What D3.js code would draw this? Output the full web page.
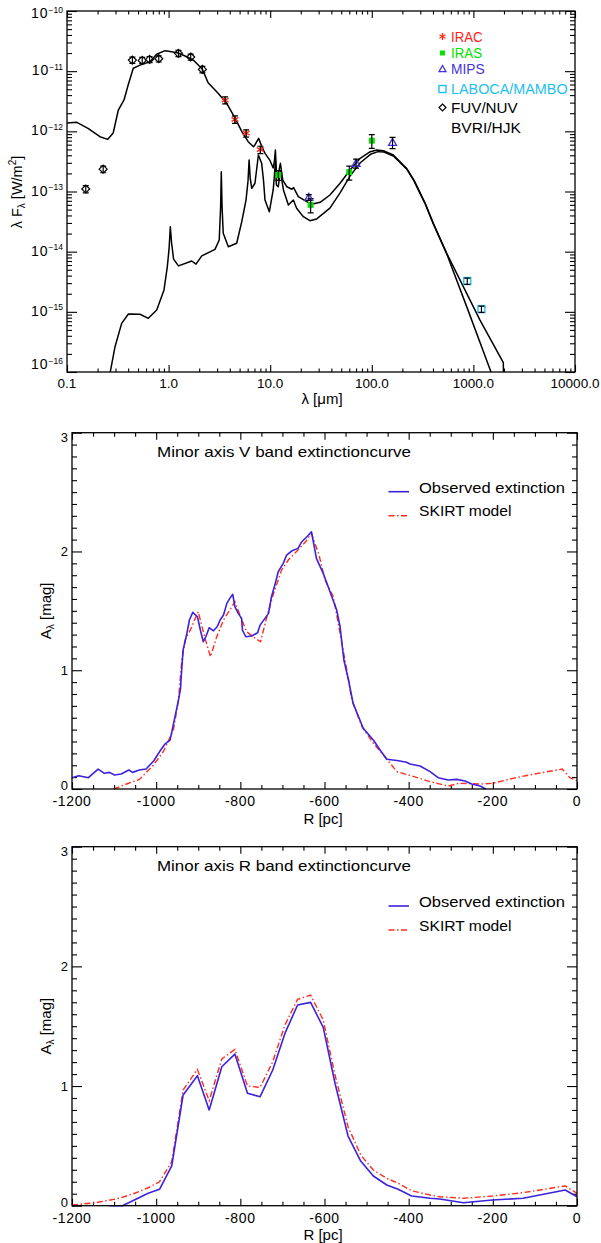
<!DOCTYPE html>
<html>
<head>
<meta charset="utf-8">
<script src="https://cdn.jsdelivr.net/npm/d3@7"></script>
<style>
  body { margin: 0; background: #fff; }
</style>
</head>
<body>
<svg id="chart" width="601" height="1243"></svg>
<script>
// ---- SED photometry: wavelength [micron], lambda F_lambda [W/m^2], error ----
const optLam  = [0.153, 0.227, 0.44, 0.55, 0.65, 0.80, 1.25, 1.65, 2.15];
const optFlux = [1.1e-13, 2.35e-13, 1.53e-11, 1.51e-11, 1.57e-11, 1.61e-11, 1.98e-11, 1.72e-11, 1.07e-11];
const optErr  = [1.5e-14, 3.0e-14, 1.8e-12, 1.8e-12, 1.8e-12, 1.9e-12, 2.3e-12, 2.0e-12, 1.3e-12];

const iracLam  = [3.6, 4.5, 5.8, 8.0];
const iracFlux = [3.3e-12, 1.58e-12, 9.3e-13, 4.95e-13];
const iracErr  = [4.5e-13, 2.2e-13, 1.3e-13, 7.0e-14];

const irasLam  = [12, 25, 60, 100];
const irasFlux = [1.88e-13, 6.0e-14, 2.1e-13, 7.0e-13];
const irasErr  = [3.5e-14, 1.6e-14, 5.5e-14, 1.8e-13];

const mipsLam  = [24, 70, 160];
const mipsFlux = [8.0e-14, 2.94e-13, 6.56e-13];
const mipsErr  = [9.0e-15, 5.0e-14, 1.4e-13];

const submmLam  = [870, 1200];
const submmFlux = [3.25e-15, 1.11e-15];
const submmErr  = [3.8e-16, 1.3e-16];

// ---- SED models ----
const totalLam  = [0.1, 0.125, 0.161, 0.211, 0.252, 0.285, 0.32, 0.364, 0.40, 0.449, 0.524, 0.656, 0.763,
  0.922, 1.07, 1.24, 1.51, 1.75, 2.14, 2.45, 3.07, 3.73, 4.51, 5.26, 6.07, 6.85, 7.0, 7.7, 8.27, 8.9, 9.9,
  10.7, 11.0, 11.25, 11.5, 11.9, 12.6, 13.3, 14.6, 16.3, 17.0, 18.9, 22.9, 25.6, 31, 38.7, 48.7, 61.1,
  76.8, 96.6, 112, 130, 163, 221, 260, 334, 403, 546, 1161, 1970, 2000];
const totalFlux = [1.37e-12, 1.41e-12, 1.12e-12, 8.15e-13, 7.36e-13, 9.37e-13, 2.26e-12, 3.32e-12, 5.89e-12,
  1.12e-11, 1.26e-11, 1.44e-11, 1.91e-11, 2.19e-11, 2.10e-11, 2.0e-11, 1.74e-11, 1.53e-11, 1.09e-11,
  6.43e-12, 4.29e-12, 2.92e-12, 1.66e-12, 9.86e-13, 6.72e-13, 5.55e-13, 5.8e-13, 7.66e-13, 5.55e-13,
  4.31e-13, 3.33e-13, 2.46e-13, 3.2e-13, 4.9e-13, 2.2e-13, 1.8e-13, 2.94e-13, 1.55e-13, 1.2e-13, 1.09e-13,
  1.16e-13, 8.19e-14, 6.77e-14, 6.12e-14, 6.61e-14, 8.74e-14, 1.37e-13, 2.28e-13, 3.56e-13, 4.58e-13,
  4.9e-13, 4.76e-13, 4.04e-13, 2.4e-13, 1.55e-13, 6.5e-14, 2.96e-14, 9.4e-15, 7.3e-16, 1.43e-16, 1e-17];

const dustLam  = [0.26, 0.297, 0.345, 0.402, 0.524, 0.631, 0.764, 0.901, 0.971, 1.01, 1.04, 1.07, 1.12,
  1.25, 1.69, 1.86, 2.12, 2.86, 3.15, 3.25, 3.3, 3.36, 3.45, 3.87, 4.68, 5.25, 5.78, 6.05, 6.2, 6.35, 6.58,
  7.08, 7.65, 8.24, 8.6, 8.89, 9.8, 10.7, 11.0, 11.25, 11.5, 12.0, 12.6, 13.5, 15.1, 16.9, 18.2, 21.2,
  24.6, 28.7, 38.7, 48.7, 61, 77, 97, 115, 130, 163, 221, 260, 334, 403, 546, 859, 1490, 2000];
const dustFlux = [8e-17, 2.63e-16, 6.44e-16, 9.2e-16, 9.1e-16, 7.8e-16, 1.07e-15, 2.31e-15, 5.6e-15, 1.1e-14,
  2.6e-14, 1.4e-14, 7.5e-15, 5.8e-15, 7.0e-15, 6.2e-15, 8.5e-15, 1.09e-14, 1.56e-14, 5.5e-14, 2.13e-13,
  5.5e-14, 2.02e-14, 1.21e-14, 1.38e-14, 3.15e-14, 7.2e-14, 1.5e-13, 3.33e-13, 1.7e-13, 1.13e-13,
  1.37e-13, 4.04e-13, 2.94e-13, 1.5e-13, 7.2e-14, 4.6e-14, 1.06e-13, 1.8e-13, 3.2e-13, 1.3e-13, 1.2e-13,
  2.2e-13, 1.06e-13, 5.95e-14, 7.2e-14, 5.25e-14, 3.81e-14, 3.27e-14, 3.5e-14, 5.3e-14, 9.5e-14, 1.8e-13,
  3.0e-13, 4.15e-13, 4.6e-13, 4.55e-13, 3.9e-13, 2.35e-13, 1.5e-13, 6.3e-14, 2.9e-14, 9.2e-15, 1.22e-15,
  1.0e-16, 2.5e-17];

const sedXTickLabels = ['0.1', '1.0', '10.0', '100.0', '1000.0', '10000.0'];
const sedYTickExp = ['\u221216', '\u221215', '\u221214', '\u221213', '\u221212', '\u221211', '\u221210'];

// ---- V band extinction along the minor axis ----
const vObsR = [-1200, -1184, -1161, -1138, -1123, -1111, -1099, -1083, -1065, -1056, -1040, -1024, -1006,
  -992, -980, -967, -947, -942, -941, -936, -927, -921, -913, -902, -894, -888, -882, -874, -864, -855,
  -848, -840, -832, -825, -818, -813, -805, -797, -795, -787, -773, -759, -753, -733, -726, -718, -710,
  -698, -690, -677, -663, -654, -640, -631, -619, -603, -571, -563, -554, -543, -532, -508, -484, -468,
  -452, -428, -405, -397, -373, -349, -330, -306, -286, -266, -250, -230, -217];
const vObsA = [0.095, 0.112, 0.095, 0.168, 0.132, 0.14, 0.118, 0.126, 0.16, 0.14, 0.16, 0.168, 0.236,
  0.314, 0.375, 0.412, 0.749, 0.848, 0.918, 1.17, 1.31, 1.423, 1.487, 1.45, 1.324, 1.24, 1.282, 1.358,
  1.332, 1.366, 1.423, 1.465, 1.563, 1.605, 1.639, 1.535, 1.479, 1.437, 1.338, 1.282, 1.288, 1.316, 1.38,
  1.479, 1.619, 1.717, 1.829, 1.9, 1.97, 2.006, 2.026, 2.082, 2.13, 2.166, 1.94, 1.816, 1.507, 1.366,
  1.086, 0.918, 0.721, 0.511, 0.412, 0.328, 0.25, 0.24, 0.225, 0.21, 0.194, 0.146, 0.095, 0.076, 0.081,
  0.067, 0.042, 0.025, 0.0];
const vModR = [-1101, -1060, -1040, -1007, -983, -959, -947, -939, -931, -919, -907, -900, -884, -871, -856,
  -840, -825, -813, -801, -785, -765, -752, -737, -721, -702, -686, -667, -645, -631, -613, -599, -579,
  -563, -547, -535, -511, -484, -460, -428, -389, -349, -306, -280, -230, -200, -152, -105, -57, -35, -17, 0];
const vModA = [0.0, 0.056, 0.08, 0.2, 0.314, 0.497, 0.749, 1.086, 1.254, 1.338, 1.437, 1.492, 1.269, 1.114,
  1.282, 1.423, 1.507, 1.577, 1.465, 1.324, 1.269, 1.24, 1.45, 1.647, 1.843, 1.928, 1.998, 2.082, 2.152,
  1.97, 1.759, 1.619, 1.31, 1.002, 0.749, 0.524, 0.385, 0.286, 0.146, 0.106, 0.062, 0.025, 0.048, 0.042,
  0.048, 0.09, 0.124, 0.154, 0.168, 0.095, 0.07];

// ---- R band extinction along the minor axis ----
const rObsR = [-1111, -1080, -1019, -992, -963, -936, -902, -874, -844, -813, -783, -753, -723, -694, -664,
  -633, -603, -575, -544, -514, -484, -452, -425, -393, -349, -326, -270, -201, -128, -28, 0];
const rObsA = [0.0, 0.0, 0.104, 0.137, 0.332, 0.925, 1.086, 0.8, 1.161, 1.267, 0.939, 0.911, 1.134, 1.44,
  1.677, 1.699, 1.49, 1.023, 0.582, 0.373, 0.248, 0.173, 0.137, 0.081, 0.062, 0.056, 0.025, 0.048, 0.062,
  0.131, 0.075];
const rModR = [-1200, -1143, -1088, -1051, -1019, -992, -963, -936, -902, -874, -844, -813, -783, -753, -723,
  -694, -664, -633, -603, -575, -544, -514, -484, -452, -425, -393, -349, -326, -270, -201, -128, -28, 0];
const rModA = [0.006, 0.025, 0.062, 0.104, 0.15, 0.2, 0.368, 0.967, 1.139, 0.877, 1.226, 1.306, 1.0, 0.989,
  1.203, 1.51, 1.724, 1.76, 1.551, 1.092, 0.66, 0.424, 0.298, 0.229, 0.187, 0.125, 0.089, 0.075, 0.062,
  0.081, 0.109, 0.165, 0.104];

const extXTicks = [-1200, -1000, -800, -600, -400, -200, 0];
const extYTicks = [0, 1, 2, 3];

const FONT = '"Liberation Sans", Arial, Helvetica, sans-serif';
const BLUE = '#3b22dc';
const RED = '#ff2d1e';
const svg = d3.select('#chart').attr('font-family', FONT);

function frame(x0, y0, x1, y1) {
  svg.append('rect')
    .attr('x', x0).attr('y', y0)
    .attr('width', x1 - x0).attr('height', y1 - y0)
    .attr('fill', 'none').attr('stroke', '#000').attr('stroke-width', 1.3);
}

// ticks pointing inward, labels drawn separately
function ticks(axis, transform, values, size) {
  const g = svg.append('g').attr('transform', transform)
    .call(axis.tickValues(values).tickSize(-size).tickFormat(''));
  g.select('.domain').remove();
  g.selectAll('.tick line').attr('stroke', '#000').attr('stroke-width', 1.1);
}

const isDecade = v => Math.abs(Math.log10(v) - Math.round(Math.log10(v))) < 1e-6;

// =================== panel 1 : SED ===================
const sx = d3.scaleLog().domain([0.1, 10000]).range([67, 575]);
const sy = d3.scaleLog().domain([1e-16, 1e-10]).range([372, 11]);

const sxMajor = sx.ticks().filter(isDecade);
const sxMinor = sx.ticks().filter(v => !isDecade(v));
const syMajor = sy.ticks().filter(isDecade);
const syMinor = sy.ticks().filter(v => !isDecade(v));

ticks(d3.axisBottom(sx), 'translate(0,372)', sxMajor, 7);
ticks(d3.axisBottom(sx), 'translate(0,372)', sxMinor, 3.5);
ticks(d3.axisTop(sx), 'translate(0,11)', sxMajor, 7);
ticks(d3.axisTop(sx), 'translate(0,11)', sxMinor, 3.5);
ticks(d3.axisLeft(sy), 'translate(67,0)', syMajor, 10);
ticks(d3.axisLeft(sy), 'translate(67,0)', syMinor, 5);
ticks(d3.axisRight(sy), 'translate(575,0)', syMajor, 10);
ticks(d3.axisRight(sy), 'translate(575,0)', syMinor, 5);

svg.append('g').selectAll('text').data(sxMajor).join('text')
  .attr('x', d => sx(d)).attr('y', 388)
  .attr('text-anchor', 'middle').attr('font-size', 13.5)
  .text((d, i) => sedXTickLabels[i]);

syMajor.forEach((v, i) => {
  const yb = Math.min(Math.max(sy(v) + 4, 18), 369);
  const t = svg.append('text').attr('x', 63).attr('y', yb)
    .attr('text-anchor', 'end').attr('font-size', 14);
  t.append('tspan').attr('letter-spacing', 1).text('10');
  t.append('tspan').attr('font-size', 8.5).attr('dy', -5.5).text(sedYTickExp[i]);
});

svg.append('text').attr('x', 322).attr('y', 404)
  .attr('text-anchor', 'middle').attr('font-size', 15)
  .text('\u03bb [\u03bcm]');

const syl = svg.append('text').attr('transform', 'translate(22,192) rotate(-90)')
  .attr('text-anchor', 'middle').attr('font-size', 14.5);
syl.append('tspan').text('\u03bb F');
syl.append('tspan').attr('font-size', 10).attr('dy', 3).text('\u03bb');
syl.append('tspan').attr('dy', -3).text(' [W/m');
syl.append('tspan').attr('font-size', 10).attr('dy', -6).text('2');
syl.append('tspan').attr('dy', 6).text(']');

svg.append('clipPath').attr('id', 'sedClip').append('rect')
  .attr('x', 67).attr('y', 11).attr('width', 508).attr('height', 361);

const sedLine = d3.line().x(d => sx(d[0])).y(d => sy(d[1]));
const sedG = svg.append('g').attr('clip-path', 'url(#sedClip)');
[[totalLam, totalFlux], [dustLam, dustFlux]].forEach(([l, f]) => {
  sedG.append('path').datum(d3.zip(l, f)).attr('d', sedLine)
    .attr('fill', 'none').attr('stroke', '#000').attr('stroke-width', 1.5)
    .attr('stroke-linejoin', 'round');
});

// marker shapes
function diamond(g, x, y, r, color) {
  g.append('path').attr('d', `M${x},${y - r}L${x + r},${y}L${x},${y + r}L${x - r},${y}Z`)
    .attr('fill', 'none').attr('stroke', color).attr('stroke-width', 1.2);
}
function asterisk(g, x, y, r, color) {
  [90, 30, -30].forEach(a => {
    const dx = r * Math.cos(a * Math.PI / 180), dy = r * Math.sin(a * Math.PI / 180);
    g.append('line').attr('x1', x - dx).attr('y1', y - dy).attr('x2', x + dx).attr('y2', y + dy)
      .attr('stroke', color).attr('stroke-width', 1.4);
  });
}
function square(g, x, y, r, color, filled) {
  g.append('rect').attr('x', x - r).attr('y', y - r).attr('width', 2 * r).attr('height', 2 * r)
    .attr('fill', filled ? color : 'none').attr('stroke', color).attr('stroke-width', filled ? 0 : 1.4);
}
function triangle(g, x, y, r, color) {
  g.append('path').attr('d', `M${x},${y - r}L${x + r},${y + r * 0.75}L${x - r},${y + r * 0.75}Z`)
    .attr('fill', 'none').attr('stroke', color).attr('stroke-width', 1.3);
}

const markG = svg.append('g');
function photometry(lam, flux, err, draw) {
  lam.forEach((l, i) => {
    const x = sx(l), y = sy(flux[i]);
    draw(markG, x, y);
    const y1 = sy(flux[i] + err[i]), y2 = sy(flux[i] - err[i]);
    markG.append('path')
      .attr('d', `M${x},${y1}V${y2}M${x - 3},${y1}H${x + 3}M${x - 3},${y2}H${x + 3}`)
      .attr('fill', 'none').attr('stroke', '#000').attr('stroke-width', 1.2);
  });
}
photometry(optLam, optFlux, optErr, (g, x, y) => diamond(g, x, y, 4, '#000'));
photometry(iracLam, iracFlux, iracErr, (g, x, y) => asterisk(g, x, y, 4, RED));
photometry(irasLam, irasFlux, irasErr, (g, x, y) => square(g, x, y, 3, '#00e400', true));
photometry(mipsLam, mipsFlux, mipsErr, (g, x, y) => triangle(g, x, y, 4, '#4433dd'));
photometry(submmLam, submmFlux, submmErr, (g, x, y) => square(g, x, y, 3.5, '#22c0ee', false));

// legend
const legG = svg.append('g').attr('font-size', 14);
const legend = [
  { name: 'IRAC', color: '#ff2020', y: 41.5, w: 31.7, sym: (x, y) => asterisk(legG, x, y, 3.5, RED) },
  { name: 'IRAS', color: '#00e000', y: 58, w: 31, sym: (x, y) => square(legG, x, y, 2.5, '#00e400', true) },
  { name: 'MIPS', color: '#4433dd', y: 74, w: 33.7, sym: (x, y) => triangle(legG, x, y, 3.5, '#4433dd') },
  { name: 'LABOCA/MAMBO', color: '#22c0ee', y: 94, w: 116.6, sym: (x, y) => square(legG, x, y, 3.5, '#22c0ee', false) },
  { name: 'FUV/NUV', color: '#000', y: 112.5, w: 66.7, sym: (x, y) => diamond(legG, x, y, 3.5, '#000') },
  { name: 'BVRI/HJK', color: '#000', y: 133, w: 70, sym: null }
];
legend.forEach(d => {
  if (d.sym) d.sym(442.5, d.y - 5);
  legG.append('text').attr('x', 451).attr('y', d.y).attr('fill', d.color)
    .attr('textLength', d.w).attr('lengthAdjust', 'spacingAndGlyphs').text(d.name);
});

// =================== panels 2 & 3 : extinction ===================
const ex = d3.scaleLinear().domain([-1200, 0]).range([72, 577]);
const exMinor = d3.range(-1200, 1, 50).filter(v => v % 200 !== 0);
const eyMinor = d3.range(0, 31).filter(v => v % 10 !== 0).map(v => v / 10);

function extPanel(top, bottom, title, obsR, obsA, modR, modA, legY) {
  const ey = d3.scaleLinear().domain([0, 3]).range([bottom, top]);

  ticks(d3.axisBottom(ex), `translate(0,${bottom})`, extXTicks, 7);
  ticks(d3.axisBottom(ex), `translate(0,${bottom})`, exMinor, 4);
  ticks(d3.axisTop(ex), `translate(0,${top})`, extXTicks, 7);
  ticks(d3.axisTop(ex), `translate(0,${top})`, exMinor, 4);
  ticks(d3.axisLeft(ey), 'translate(72,0)', extYTicks, 10);
  ticks(d3.axisLeft(ey), 'translate(72,0)', eyMinor, 5);
  ticks(d3.axisRight(ey), 'translate(577,0)', extYTicks, 10);
  ticks(d3.axisRight(ey), 'translate(577,0)', eyMinor, 5);

  svg.append('g').selectAll('text').data(extXTicks).join('text')
    .attr('x', d => ex(d)).attr('y', bottom + 17)
    .attr('text-anchor', 'middle').attr('font-size', 14).attr('letter-spacing', 0.6)
    .text(d => String(d));
  svg.append('g').selectAll('text').data(extYTicks).join('text')
    .attr('x', 68).attr('y', d => Math.min(Math.max(ey(d) + 5, top + 9), bottom + 1))
    .attr('text-anchor', 'end').attr('font-size', 13)
    .text(d => String(d));

  svg.append('text').attr('x', 323).attr('y', bottom + 34.5)
    .attr('text-anchor', 'middle').attr('font-size', 15).text('R [pc]');

  const yl = svg.append('text')
    .attr('transform', `translate(51,${(top + bottom) / 2}) rotate(-90)`)
    .attr('text-anchor', 'middle').attr('font-size', 15);
  yl.append('tspan').text('A');
  yl.append('tspan').attr('font-size', 10).attr('dy', 3).text('\u03bb');
  yl.append('tspan').attr('dy', -3).text(' [mag]');

  svg.append('text').attr('x', 157).attr('y', top + 24.5).attr('font-size', 14.5)
    .attr('textLength', 254).attr('lengthAdjust', 'spacingAndGlyphs').text(title);

  const line = d3.line().x(d => ex(d[0])).y(d => ey(d[1]));
  svg.append('path').datum(d3.zip(modR, modA)).attr('d', line)
    .attr('fill', 'none').attr('stroke', RED).attr('stroke-width', 1.4)
    .attr('stroke-dasharray', '6,2.5,1.5,2.5');
  svg.append('path').datum(d3.zip(obsR, obsA)).attr('d', line)
    .attr('fill', 'none').attr('stroke', BLUE).attr('stroke-width', 1.6)
    .attr('stroke-linejoin', 'round');

  // legend
  svg.append('line').attr('x1', 388.5).attr('x2', 409).attr('y1', legY).attr('y2', legY)
    .attr('stroke', BLUE).attr('stroke-width', 1.6);
  svg.append('text').attr('x', 419).attr('y', legY + 1).attr('font-size', 15)
    .attr('textLength', 146).attr('lengthAdjust', 'spacingAndGlyphs').text('Observed extinction');
  svg.append('line').attr('x1', 388.5).attr('x2', 409).attr('y1', legY + 24).attr('y2', legY + 24)
    .attr('stroke', RED).attr('stroke-width', 1.4).attr('stroke-dasharray', '6,2.5,1.5,2.5');
  svg.append('text').attr('x', 419).attr('y', legY + 24.5).attr('font-size', 15)
    .attr('textLength', 92.5).attr('lengthAdjust', 'spacingAndGlyphs').text('SKIRT model');

  frame(72, top, 577, bottom);
}

extPanel(432.7, 789, 'Minor axis V band extinctioncurve', vObsR, vObsA, vModR, vModA, 491.7);
extPanel(846.7, 1205.7, 'Minor axis R band extinctioncurve', rObsR, rObsA, rModR, rModA, 906);

frame(67, 11, 575, 372);
</script>
</body>
</html>
